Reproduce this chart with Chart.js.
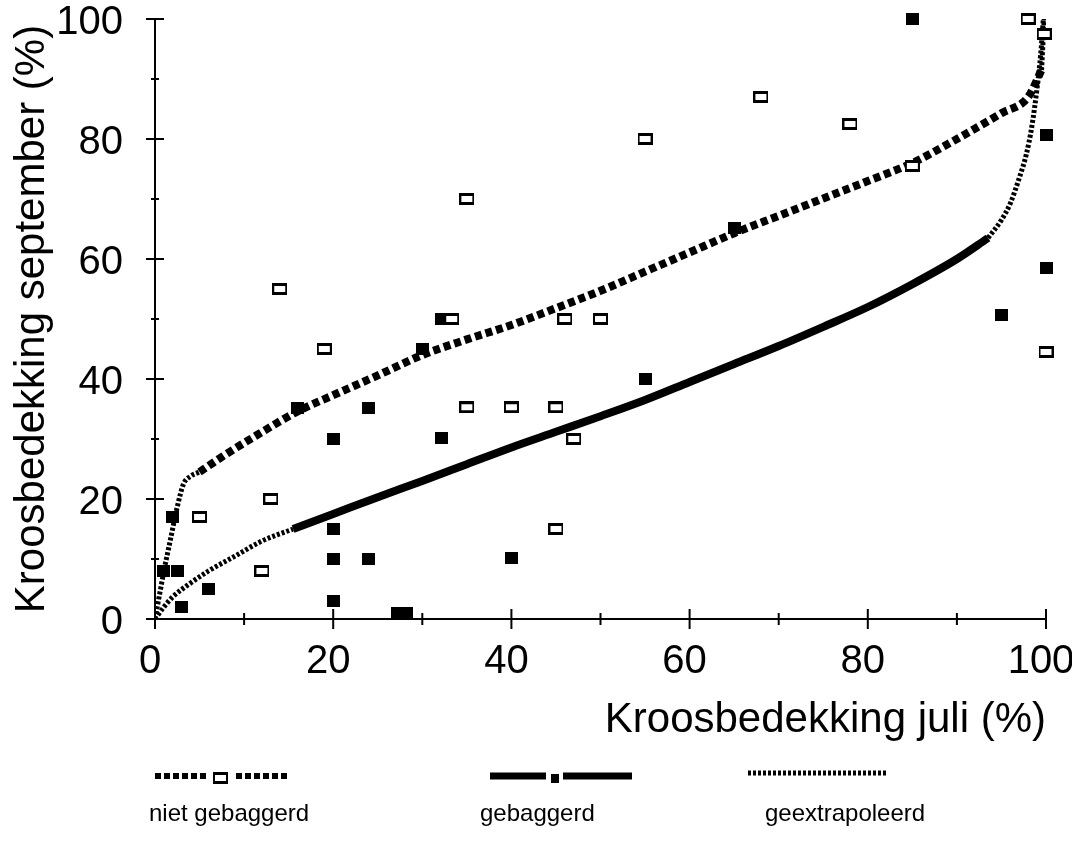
<!DOCTYPE html>
<html>
<head>
<meta charset="utf-8">
<script src="https://cdn.jsdelivr.net/npm/chart.js@4.4.0/dist/chart.umd.min.js"></script>
<style>
html,body{margin:0;padding:0;background:#fff;}
</style>
</head>
<body>
<canvas id="kroosChart" width="1072" height="844"></canvas>
<script>
Chart.defaults.font.family = "'Liberation Sans', Arial, sans-serif";
Chart.defaults.color = '#000';

// niet gebaggerd (open squares)
const openX = [5, 12, 13, 14, 19, 33.3, 35, 35, 40, 45, 45, 46, 47, 50, 55, 68, 78, 85, 98, 99.8, 100];
const openY = [17, 8, 20, 55, 45, 50, 70, 35.3, 35.3, 35.3, 15, 50, 30, 50, 80, 87, 82.5, 75.5, 100, 97.5, 44.5];

// gebaggerd (filled squares)
const filledX = [1, 2.5, 2, 3, 6, 16, 20, 20, 20, 20, 24, 24, 27.2, 28.2, 30, 32.2, 32.2, 40, 55, 65, 85, 95, 100, 100];
const filledY = [8, 8, 17, 2, 5, 35.2, 30, 15, 10, 3, 35.2, 10, 1, 1, 45, 50, 30.2, 10.2, 40, 65.2, 100, 50.7, 80.7, 58.5];

// fitted curves
const nietFitX = [5, 8, 11.5, 16, 20, 25, 30, 35, 40, 45, 50, 55, 60, 65, 70, 75, 80, 85, 90, 95, 98, 99.5];
const nietFitY = [24.5, 27.5, 30.7, 34.6, 37.3, 40.6, 44, 46.6, 49, 51.8, 54.7, 57.9, 61.1, 64.3, 67.2, 70.1, 73, 76, 80, 84.3, 87, 91.5];
const gebFitX = [15.5, 20, 25, 30, 35, 40, 45, 50, 55, 60, 65, 70, 75, 80, 85, 90, 93.5];
const gebFitY = [15, 17.5, 20.3, 23, 25.8, 28.6, 31.2, 33.8, 36.5, 39.5, 42.5, 45.5, 48.7, 52, 55.8, 60, 63.5];

// geextrapoleerd parts
const extraNietLowX = [0, 0.6, 1, 1.7, 2.5, 3.2, 4, 5];
const extraNietLowY = [0, 4.8, 8, 13, 18.7, 22.5, 23.8, 24.5];
const extraNietHighX = [99.5, 99.8];
const extraNietHighY = [91.5, 100];
const extraGebLowX = [0, 1, 2, 4, 6, 9, 12, 15.5];
const extraGebLowY = [0, 2, 3.7, 6, 8, 10.5, 13, 15];
const extraGebHighX = [93.5, 95, 96, 97, 97.8, 98.4, 99, 99.4, 99.7];
const extraGebHighY = [63.5, 66.5, 69.3, 73.5, 77.5, 82, 88.5, 94, 100];

const tickValues = [0, 10, 20, 30, 40, 50, 60, 70, 80, 90, 100];
const legendLabels = ['niet gebaggerd', 'gebaggerd', 'geextrapoleerd'];

function pts(xs, ys){
    return xs.map((x,i)=>({x:x, y:ys[i]}));
}

function boxImage(w, h, filled){
    const c = document.createElement('canvas');
    c.width = w; c.height = h;
    const g = c.getContext('2d');
    g.fillStyle = '#000';
    g.fillRect(0,0,w,h);
    if(!filled){
        g.fillStyle = '#fff';
        g.fillRect(2,3,w-4,h-6);
    }
    return c;
}

const openBox = boxImage(15, 12, false);
const filledBox = boxImage(13, 12, true);

function fitLine(xs, ys, width, dash){
    return {
        data: pts(xs, ys),
        showLine: true,
        borderColor: '#000',
        borderWidth: width,
        borderDash: dash,
        borderCapStyle: 'butt',
        pointRadius: 0,
        cubicInterpolationMode: 'monotone'
    };
}

const axisTicks = {
    id: 'axisTicks',
    afterDatasetsDraw(chart){
        const {ctx, scales:{x, y}} = chart;
        ctx.save();
        ctx.strokeStyle = '#000';
        ctx.lineWidth = 2;
        tickValues.forEach(v=>{
            const major = v % 20 === 0;
            const px = x.getPixelForValue(v);
            const xl = major ? 10 : 6;
            ctx.beginPath();
            ctx.moveTo(px, x.top - xl);
            ctx.lineTo(px, x.top + xl);
            ctx.stroke();
            const py = y.getPixelForValue(v);
            const yl = major ? 9 : 4;
            ctx.beginPath();
            ctx.moveTo(y.right - yl, py);
            ctx.lineTo(y.right + yl, py);
            ctx.stroke();
        });
        ctx.restore();
    }
};

const bottomLegend = {
    id: 'bottomLegend',
    afterDraw(chart){
        const ctx = chart.ctx;
        const ly = 776;
        ctx.save();
        ctx.strokeStyle = '#000';
        ctx.lineCap = 'butt';
        // niet gebaggerd
        ctx.lineWidth = 6;
        ctx.setLineDash([6,3]);
        ctx.beginPath(); ctx.moveTo(155, ly); ctx.lineTo(207, ly); ctx.stroke();
        ctx.beginPath(); ctx.moveTo(236, ly); ctx.lineTo(288, ly); ctx.stroke();
        ctx.drawImage(openBox, 213, ly - 4);
        // gebaggerd
        ctx.setLineDash([]);
        ctx.lineWidth = 7;
        ctx.beginPath(); ctx.moveTo(490, ly); ctx.lineTo(546, ly); ctx.stroke();
        ctx.beginPath(); ctx.moveTo(563, ly); ctx.lineTo(632, ly); ctx.stroke();
        ctx.fillStyle = '#000';
        ctx.fillRect(551, ly - 2, 8, 9);
        // geextrapoleerd
        ctx.lineWidth = 5;
        ctx.setLineDash([3,2]);
        ctx.beginPath(); ctx.moveTo(748, ly - 3); ctx.lineTo(886, ly - 3); ctx.stroke();
        ctx.setLineDash([]);
        ctx.font = "24px 'Liberation Sans', Arial, sans-serif";
        ctx.textBaseline = 'alphabetic';
        ctx.fillText(legendLabels[0], 149, 821);
        ctx.fillText(legendLabels[1], 480, 821);
        ctx.fillText(legendLabels[2], 765, 821);
        ctx.restore();
    }
};

const kroosChart = new Chart(document.getElementById('kroosChart'), {
    type: 'scatter',
    data: {
        datasets: [
            {
                data: pts(openX, openY),
                pointStyle: openBox,
                pointRadius: 7,
                clip: false
            },
            {
                data: pts(filledX, filledY),
                pointStyle: filledBox,
                pointRadius: 7,
                clip: false
            },
            fitLine(nietFitX, nietFitY, 8, [7,4]),
            fitLine(gebFitX, gebFitY, 8, []),
            fitLine(extraNietLowX, extraNietLowY, 5, [3,2]),
            fitLine(extraNietHighX, extraNietHighY, 5, [3,2]),
            fitLine(extraGebLowX, extraGebLowY, 5, [3,2]),
            fitLine(extraGebHighX, extraGebHighY, 5, [3,2])
        ]
    },
    options: {
        responsive: false,
        devicePixelRatio: 1,
        animation: false,
        layout: {padding: {left: 0, right: 26, top: 19, bottom: 98}},
        plugins: {
            legend: {display: false},
            tooltip: {enabled: false}
        },
        scales: {
            x: {
                type: 'linear',
                min: 0,
                max: 100,
                grid: {display: true, drawOnChartArea: false, drawTicks: false},
                border: {display: true, color: '#000', width: 2},
                ticks: {
                    stepSize: 10,
                    autoSkip: false,
                    maxRotation: 0,
                    padding: 23,
                    labelOffset: -5,
                    font: {size: 40, lineHeight: 1},
                    callback: v => v % 20 === 0 ? v : ''
                },
                title: {
                    display: true,
                    text: 'Kroosbedekking juli (%)',
                    align: 'end',
                    font: {size: 42},
                    padding: {top: 0, bottom: 0}
                },
                afterFit(scale){
                    scale.height = 127;
                    scale.paddingLeft = 0;
                    scale.paddingRight = 0;
                }
            },
            y: {
                type: 'linear',
                min: 0,
                max: 100,
                grid: {display: true, drawOnChartArea: false, drawTicks: false},
                border: {display: true, color: '#000', width: 2},
                ticks: {
                    stepSize: 10,
                    autoSkip: false,
                    padding: 32,
                    labelOffset: 4,
                    font: {size: 40, lineHeight: 1},
                    callback: v => v % 20 === 0 ? v : ''
                },
                title: {
                    display: true,
                    text: 'Kroosbedekking september (%)',
                    font: {size: 42},
                    padding: {top: 7, bottom: 0}
                },
                afterFit(scale){
                    scale.width = 155;
                    scale.paddingTop = 0;
                    scale.paddingBottom = 0;
                }
            }
        }
    },
    plugins: [axisTicks, bottomLegend]
});
</script>
</body>
</html>
